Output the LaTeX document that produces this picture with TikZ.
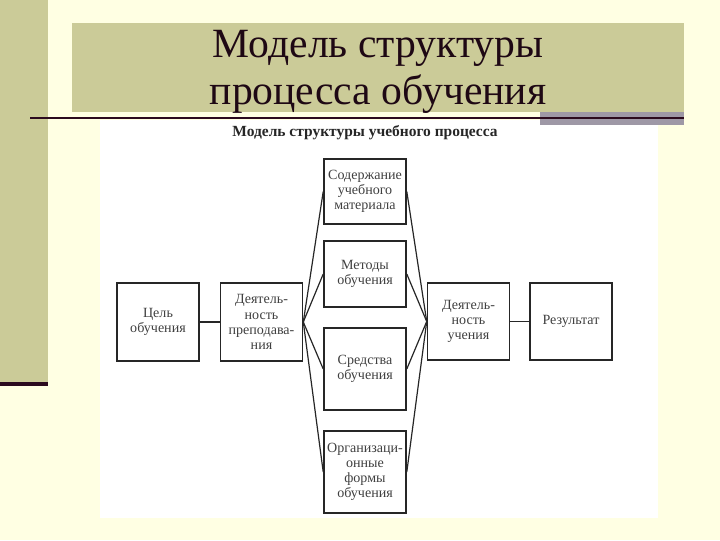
\documentclass[tikz,border=0pt]{standalone}
\usepackage{fontspec}
\setmainfont{Liberation Serif}

\definecolor{slidebg}{RGB}{255,255,227}
\definecolor{khaki}{RGB}{203,203,152}
\definecolor{darkrule}{RGB}{43,10,30}
\definecolor{greybar}{RGB}{158,152,166}
\definecolor{titleink}{RGB}{30,8,20}

\begin{document}
\begin{tikzpicture}
    [
        x = 0.025cm, y = -0.025cm,
        title/.style = {anchor = base, text = titleink, inner sep = 0pt, font = \fontsize{29.6}{33}\selectfont},
        block/.style = {draw = black!85, line width = 1.1pt, fill = white, align = center,
                inner sep = 1pt, minimum width = 2.05cm, text = black!75,
                font = \fontsize{10}{10.8}\selectfont},
        link/.style = {draw = black!85, line width = 0.85pt},
    ]

    \useasboundingbox (0,0) rectangle (720,540);

    % slide background
    \fill[slidebg] (0,0) rectangle (720,540);
    \fill[khaki] (0,0) rectangle (48,382);
    \fill[darkrule] (0,382) rectangle (48,386);
    \fill[khaki] (72,23) rectangle (684,112);
    \fill[white] (100,120) rectangle (658,518);
    \fill[greybar] (540,112) rectangle (684,125);
    \draw[darkrule, line width = 2.1pt] (30,118) -- (684,118);

    \node[title] (title1) at (378,57) {Модель структуры};
    \node[title] (title2) at (378,104) {процесса обучения};
    \node[font = \bfseries\fontsize{11}{12}\selectfont, text = black!85] (caption) at (365,133)
        {Модель структуры учебного процесса};

    \node[block, minimum height = 1.95cm] (goal) at (158,322) {Цель\\обучения};
    \node[block, minimum height = 1.95cm] (teach) at (261.5,322) {Деятель-\\ность\\преподава-\\ния};
    \node[block, minimum height = 1.625cm] (content) at (365,191.5) {Содержание\\учебного\\материала};
    \node[block, minimum height = 1.65cm] (methods) at (365,274) {Методы\\обучения};
    \node[block, minimum height = 2.05cm] (means) at (365,369) {Средства\\обучения};
    \node[block, minimum height = 2.05cm] (forms) at (365,472) {Организаци-\\онные\\формы\\обучения};
    \node[block, minimum height = 1.925cm] (learn) at (468.5,321.5) {Деятель-\\ность\\учения};
    \node[block, minimum height = 1.925cm] (result) at (571,321.5) {Результат};

    \draw[link] (goal) -- (teach);
    \draw[link] (learn) -- (result);

    \foreach \m in {content,methods,means,forms}{
            \draw[link] (teach.east) -- (\m.west);
            \draw[link] (\m.east) -- (learn.west);
        }

\end{tikzpicture}
\end{document}
